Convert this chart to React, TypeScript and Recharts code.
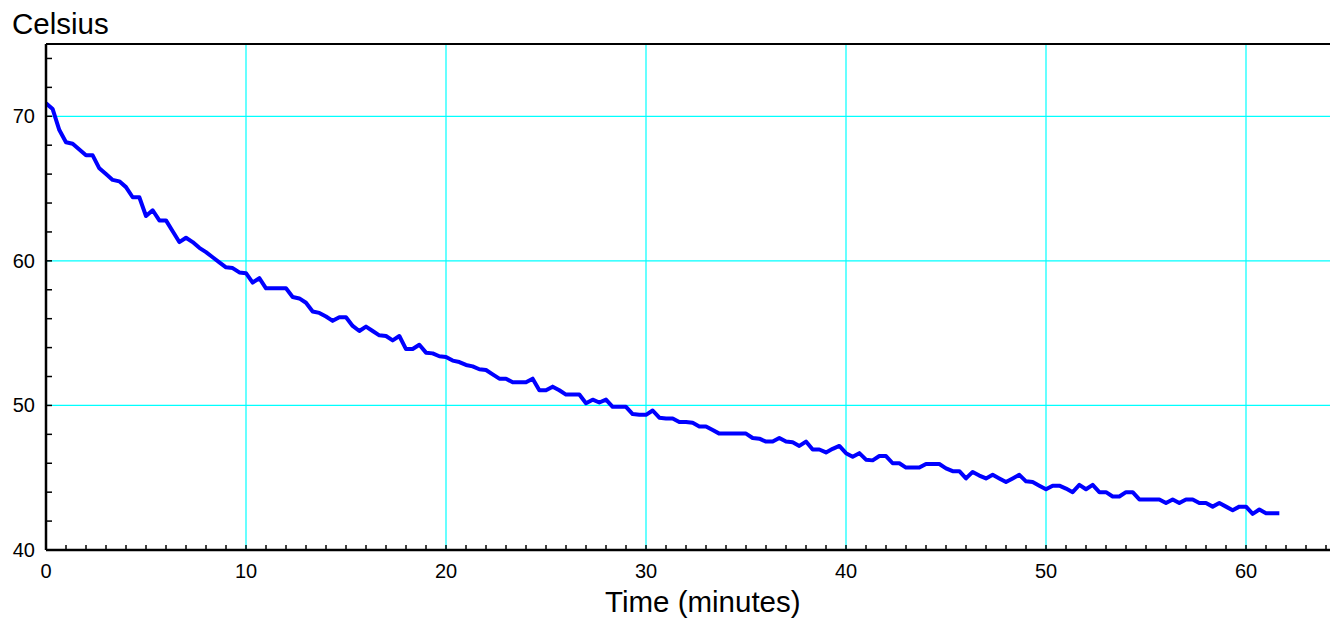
import { LineChart, Line, XAxis, YAxis, ReferenceLine } from "recharts";

// samples every 20 s (1/3 minute)
const TEMPS = [
  70.9, 70.5, 69.05, 68.2, 68.1, 67.7, 67.3, 67.3, 66.4, 66.0,
  65.6, 65.5, 65.1, 64.4, 64.4, 63.1, 63.5, 62.8, 62.8, 62.05,
  61.3, 61.6, 61.3, 60.9, 60.6, 60.25, 59.9, 59.55, 59.5, 59.2,
  59.15, 58.5, 58.8, 58.1, 58.1, 58.1, 58.1, 57.5, 57.4, 57.1,
  56.5, 56.4, 56.15, 55.85, 56.1, 56.1, 55.5, 55.15, 55.45, 55.15,
  54.85, 54.8, 54.5, 54.8, 53.9, 53.9, 54.2, 53.65, 53.6, 53.4,
  53.35, 53.1, 53.0, 52.8, 52.7, 52.5, 52.45, 52.15, 51.85, 51.85,
  51.6, 51.6, 51.6, 51.85, 51.05, 51.05, 51.3, 51.05, 50.75, 50.75,
  50.75, 50.15, 50.4, 50.2, 50.4, 49.9, 49.9, 49.9, 49.4, 49.35,
  49.35, 49.65, 49.15, 49.1, 49.1, 48.85, 48.85, 48.8, 48.55, 48.55,
  48.3, 48.05, 48.05, 48.05, 48.05, 48.05, 47.75, 47.7, 47.5, 47.5,
  47.75, 47.5, 47.45, 47.2, 47.5, 46.95, 46.95, 46.75, 47.0, 47.2,
  46.7, 46.45, 46.7, 46.25, 46.2, 46.5, 46.5, 46.0, 46.0, 45.7,
  45.7, 45.7, 45.95, 45.95, 45.95, 45.65, 45.45, 45.45, 44.95, 45.4,
  45.15, 44.95, 45.2, 44.95, 44.7, 44.95, 45.2, 44.75, 44.7, 44.45,
  44.2, 44.45, 44.45, 44.25, 44.0, 44.5, 44.2, 44.5, 44.0, 44.0,
  43.7, 43.7, 44.0, 44.0, 43.5, 43.5, 43.5, 43.5, 43.25, 43.5,
  43.25, 43.5, 43.5, 43.25, 43.25, 43.0, 43.25, 43.0, 42.75, 43.0,
  43.0, 42.5, 42.8, 42.55, 42.55, 42.55,
];
const STEP_MIN = 1 / 3;

const X_TICKS = Array.from({ length: 65 }, (_, i) => i);
const Y_TICKS = [40, 42, 44, 46, 48, 50, 52, 54, 56, 58, 60, 62, 64, 66, 68, 70, 72, 74];
const GRID_X = [10, 20, 30, 40, 50, 60];
const GRID_Y = [50, 60, 70];

const data = TEMPS.map((temp, i) => ({ t: i * STEP_MIN, temp }));

const FONT = "'Liberation Sans', Arial, Helvetica, sans-serif";

const XTick = ({ x, y, payload }: any) => (
  <g>
    <line x1={x} y1={y} x2={x} y2={y - 5} stroke="#000" strokeWidth={1.5} />
    {payload.value % 10 === 0 && (
      <text x={x} y={y + 21} dy="0.35em" textAnchor="middle" fontSize={20} fontFamily={FONT} fill="#000">
        {payload.value}
      </text>
    )}
  </g>
);

const YTick = ({ x, y, payload }: any) => (
  <g>
    <line x1={x} y1={y} x2={x + 6} y2={y} stroke="#000" strokeWidth={1.5} />
    {payload.value % 10 === 0 && (
      <text x={x - 11} y={y} dy="0.35em" textAnchor="end" fontSize={20} fontFamily={FONT} fill="#000">
        {payload.value}
      </text>
    )}
  </g>
);

export default function App() {
  return (
    <div style={{ position: "relative", width: 1331, height: 618, background: "#fff", fontFamily: FONT }}>
      <style>{"body{margin:0}"}</style>
      <div style={{ position: "absolute", left: 12, top: 7, fontSize: 29.5, lineHeight: "34px", color: "#000" }}>Celsius</div>
      <div style={{ position: "absolute", left: 605, top: 585, fontSize: 29.5, lineHeight: "34px", color: "#000" }}>Time (minutes)</div>
      <LineChart width={1331} height={618} data={data} margin={{ top: 44, right: 1, bottom: 0, left: 0 }}>
        {GRID_X.map((v) => (
          <ReferenceLine key={"gx" + v} x={v} stroke="#00ffff" strokeWidth={1.2} />
        ))}
        {GRID_Y.map((v) => (
          <ReferenceLine key={"gy" + v} y={v} stroke="#00ffff" strokeWidth={1.2} />
        ))}
        <ReferenceLine y={75} stroke="#000" strokeWidth={2} />
        <XAxis
          dataKey="t"
          type="number"
          domain={[0, 64.2]}
          ticks={X_TICKS}
          interval={0}
          height={68}
          tickSize={0}
          tickMargin={0}
          tickLine={false}
          tick={XTick}
          axisLine={{ stroke: "#000", strokeWidth: 2.5 }}
          allowDataOverflow
        />
        <YAxis
          type="number"
          domain={[40, 75]}
          ticks={Y_TICKS}
          interval={0}
          width={46}
          tickSize={0}
          tickMargin={0}
          tickLine={false}
          tick={YTick}
          axisLine={{ stroke: "#000", strokeWidth: 2.5 }}
          allowDataOverflow
        />
        <Line
          type="linear"
          dataKey="temp"
          stroke="#0000ff"
          strokeWidth={4}
          strokeLinejoin="round"
          dot={false}
          isAnimationActive={false}
        />
      </LineChart>
    </div>
  );
}
